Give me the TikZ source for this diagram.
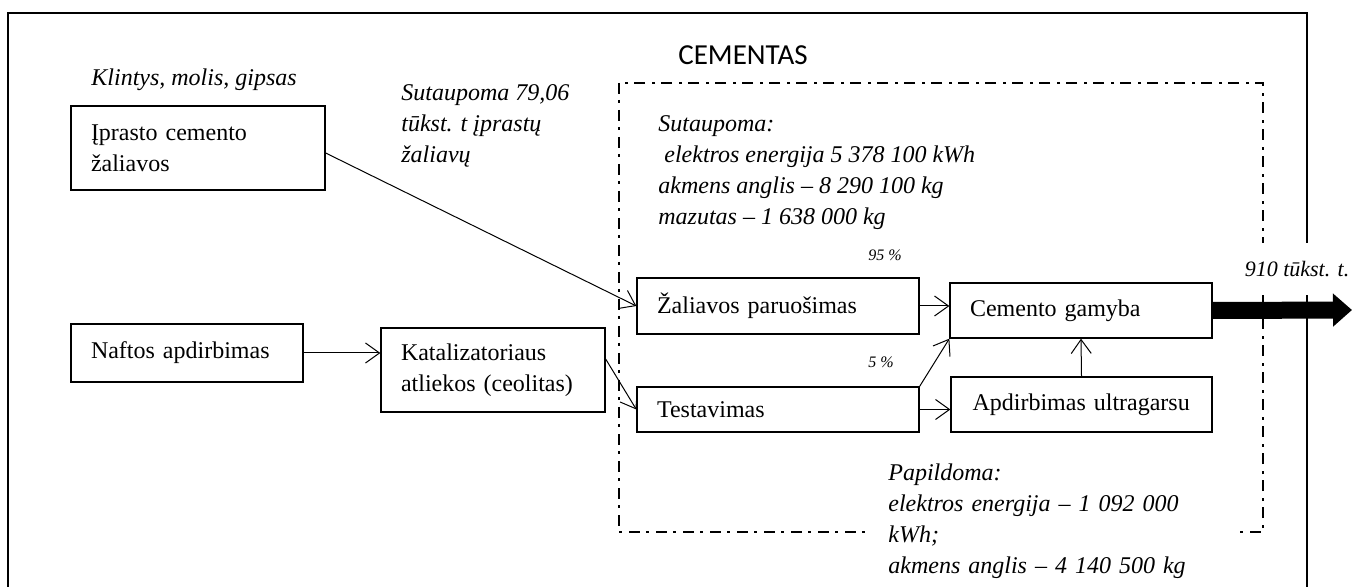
\documentclass[tikz,border=0pt]{standalone}
\usepackage{fontspec}
\setmainfont{Liberation Serif}
\newfontfamily\capfont{Carlito}
\usetikzlibrary{arrows.meta}

\begin{document}
\begin{tikzpicture}[x=0.5pt, y=-0.5pt,
  font=\fontsize{12}{15.5}\selectfont,
  >={Straight Barb[length=7pt, width=10pt]},
  box/.style 2 args={draw, line width=0.65pt, text width=#1, minimum height=#2,
    inner xsep=10pt, inner ysep=0pt, align=left},
  note/.style={inner sep=0pt, align=left, anchor=west, font=\fontsize{12}{15.5}\selectfont\itshape},
  share/.style={inner sep=0pt, font=\fontsize{8}{9}\selectfont\itshape},
  dashdot/.style={line width=1.4pt, dash pattern=on 5.5pt off 3pt on 1.5pt off 3.5pt}]
  \useasboundingbox (0, 0) rectangle (1354, 587);

  \draw[line width=0.6pt] (8, 587) -- (8, 13) -- (1307, 13) -- (1307, 587);
  \draw[dashdot] (619, 83) rectangle (1263, 532);

  \node[font=\fontsize{14.5}{17}\selectfont\capfont] (cementas) at (743, 55) {CEMENTAS};
  \node[note] (klintys) at (91, 80) {Klintys, molis, gipsas};
  \node[note] (sut79) at (401, 126) {Sutaupoma 79,06\\tūkst. t įprastų\\žaliavų};
  \node[note] (sutaupoma) at (658, 173) {Sutaupoma:\\\hspace*{0.25em}elektros energija 5 378 100 kWh\\akmens anglis – 8 290 100 kg\\mazutas – 1 638 000 kg};
  \node[note, fill=white, inner xsep=11.5pt, text width=163.5pt] (papildoma) at (865, 521.5) {Papildoma:\\elektros energija – 1 092 000\\kWh;\\akmens anglis – 4 140 500 kg};
  \node[share] (p95) at (885, 255) {95 \%};
  \node[share] (p5) at (881, 362) {5 \%};

  \node[box={107pt}{42pt}] (iprasto) at (198, 148) {Įprasto cemento\\žaliavos};
  \node[box={96pt}{29pt}] (naftos) at (187, 353) {Naftos apdirbimas};
  \node[box={92pt}{42pt}] (katal) at (493, 370) {Katalizatoriaus\\atliekos (ceolitas)};
  \node[box={121pt}{28pt}] (zal) at (778, 306) {Žaliavos paruošimas};
  \node[box={121pt}{22.5pt}] (test) at (778, 409.5) {Testavimas};
  \node[box={111pt}{27.5pt}] (cem) at (1081, 310.5) {Cemento gamyba};
  \node[box={109pt}{27.5pt}, inner xsep=10.75pt] (ultra) at (1081.5, 404.5) {Apdirbimas ultragarsu};

  \node[inner xsep=2pt, inner ysep=0pt, minimum height=26pt, fill=white,
    font=\fontsize{11}{13}\selectfont\itshape] (kiekis) at (1297, 269) {910 tūkst. t.};
  \coordinate (isejimas) at (1352, 310);

  \draw[line width=0.5pt, ->] ([yshift=-2.5pt]iprasto.east) -- (zal.west);
  \draw[line width=0.5pt, ->] (naftos.east) -- (naftos.east -| katal.west);
  \draw[line width=0.5pt, ->] ([yshift=5.5pt]katal.east) -- (test.west);
  \draw[line width=0.5pt, ->] (zal.east) -- (zal.east -| cem.west);
  \draw[line width=0.5pt, ->] (test.north east) -- (cem.south west);
  \draw[line width=0.5pt, ->] (test.east) -- (test.east -| ultra.west);
  \draw[line width=0.5pt, ->] (ultra.north) -- (cem.south);
  \draw[line width=8.5pt, -{Triangle[length=9.5pt, width=16pt]}] (cem.east) -- (isejimas);
\end{tikzpicture}
\end{document}
